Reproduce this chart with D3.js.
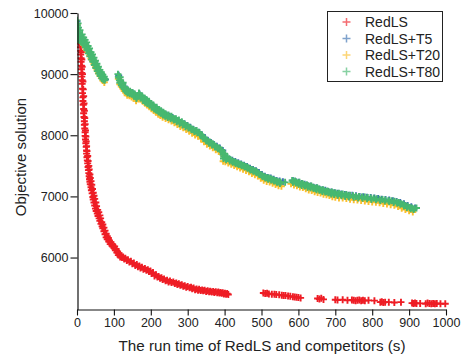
<!DOCTYPE html>
<html>
<head>
<meta charset="utf-8">
<script src="https://cdn.jsdelivr.net/npm/d3@7"></script>
<style>
  html, body { margin: 0; padding: 0; background: #fff; }
  svg { display: block; }
  text { font-family: Arial, "Liberation Sans", sans-serif; }
</style>
</head>
<body>
<div id="chart"></div>
<script>
// ---------- data ----------
const seriesNames = ["RedLS", "RedLS+T5", "RedLS+T20", "RedLS+T80"];
const seriesColors = ["#ee1d25", "#3a70b0", "#fbbf2c", "#47b870"];

const xTicks = [0, 100, 200, 300, 400, 500, 600, 700, 800, 900, 1000];
const yTicks = [6000, 7000, 8000, 9000, 10000];

// RedLS: time (s), objective
const redT = [8,8,9,9,10,10,11,11,12,12,13,13,14,14,15,15,16,16,17,18,18,19,20,20,21,22,22,23,24,25,26,26,27,28,29,30,31,32,33,34,35,36,38,39,41,43,44,46,48,50,52,55,57,60,62,65,68,70,73,76,79,82,86,90,95,100,104,108,112,117,122,128,135,142,150,158,165,172,180,188,195,202,210,218,225,232,240,248,256,265,272,280,288,296,305,312,320,328,335,342,350,358,365,372,380,386,392,398,404,410,
  505,510,515,520,528,535,540,548,555,560,565,572,578,585,590,595,600,606,
  652,657,662,668,
  700,706,720,733,745,750,755,760,765,770,775,780,790,806,
  822,826,830,835,845,860,878,
  908,912,916,920,930,945,950,955,960,965,970,975,985,998];
const redV = [9620,9560,9500,9440,9380,9320,9260,9200,9140,9080,9020,8960,8900,8840,8760,8690,8620,8560,8500,8430,8360,8300,8230,8170,8110,8050,7990,7930,7870,7810,7750,7700,7640,7590,7540,7480,7430,7380,7330,7280,7240,7200,7150,7100,7050,6990,6950,6900,6850,6800,6760,6720,6680,6640,6600,6550,6510,6480,6430,6380,6330,6300,6260,6220,6190,6160,6120,6080,6040,6010,6000,5975,5950,5925,5900,5870,5850,5830,5810,5790,5770,5740,5700,5680,5660,5640,5620,5600,5590,5575,5560,5545,5530,5515,5505,5490,5475,5465,5460,5455,5445,5440,5435,5430,5425,5420,5415,5405,5400,5395,
  5420,5410,5415,5405,5400,5400,5395,5390,5385,5380,5380,5370,5365,5360,5355,5350,5345,5340,
  5330,5320,5335,5315,
  5310,5305,5310,5300,5305,5300,5295,5300,5305,5295,5300,5295,5300,5295,
  5270,5275,5265,5270,5270,5265,5270,
  5255,5250,5255,5250,5250,5245,5255,5250,5245,5250,5245,5250,5245,5245];
// more RedLS improvements in the dense part: [time, objective]
const redMore = [[10,9600],[11,9480],[12,9360],[13,9240],[14,9120],[15,9000],[16,8880],[17,8750],[18,8640],[19,8520],[20,8400],[21,8280],[22,8180],[23,8080],[24,7980],[25,7900],[26,7820],[27,7740],[29,7660],[30,7580],[32,7500],[33,7440],[35,7360],[36,7300],[38,7250],[40,7190],[42,7120],[44,7060],[46,7010],[48,6960],[51,6900],[53,6840],[56,6780],[59,6740],[62,6690],[64,6640],[67,6580],[70,6540],[73,6490],[76,6440],[79,6390],[82,6350],[85,6320],[88,6280],[92,6250],[97,6210],[102,6180],[106,6140],[110,6100],[114,6070],[119,6030],[125,6010],[131,5990],[138,5965],[146,5940],[154,5910],[162,5885],[169,5860],[176,5840],[184,5820],[192,5800],[199,5780],[206,5755],[214,5720],[221,5690],[229,5670],[236,5650],[244,5630],[252,5615],[261,5600],[269,5585],[276,5570],[284,5555],[292,5540],[300,5525],[309,5515],[316,5500],[324,5485],[331,5480],[339,5470],[346,5465],[354,5455],[361,5450],[369,5445],[376,5440],[383,5435],[389,5430],[395,5425],[401,5415],[407,5410]];

// RedLS+T5
const t5T = [0,2,5,9,13,17,21,25,29,33,37,41,45,49,53,57,61,65,69,73,77,
  113,118,123,128,133,139,145,151,157,163,169,175,181,187,193,199,205,211,217,223,229,235,243,251,259,267,275,283,291,299,307,315,323,331,339,347,355,363,371,379,387,395,399,405,413,421,429,437,445,453,461,469,477,485,493,501,509,517,525,533,541,549,558,
  585,593,601,609,617,625,633,641,649,657,665,673,681,689,697,706,716,726,736,746,756,766,776,786,796,806,816,826,836,846,856,866,876,886,896,906,916];
const t5V = [9860,9760,9650,9600,9560,9540,9500,9450,9400,9360,9310,9270,9220,9170,9120,9070,9020,8990,8950,8930,8910,
  8980,8890,8850,8800,8750,8720,8700,8690,8660,8630,8680,8640,8600,8580,8550,8520,8490,8460,8430,8400,8380,8350,8330,8310,8290,8260,8240,8210,8190,8160,8130,8100,8080,8050,8000,7960,7910,7880,7850,7820,7790,7750,7660,7630,7610,7590,7570,7550,7530,7510,7490,7460,7440,7420,7390,7360,7330,7310,7300,7280,7260,7250,7240,
  7260,7240,7230,7210,7200,7180,7170,7150,7140,7120,7110,7100,7080,7070,7060,7050,7040,7030,7020,7020,7010,7000,6995,6985,6980,6975,6965,6955,6950,6940,6930,6915,6900,6880,6850,6830,6810];

// RedLS+T20
const t20T = [0,2,4,7,10,14,18,22,26,30,34,38,42,46,50,54,58,62,66,70,74,
  112,116,120,124,128,132,136,142,148,154,160,166,172,178,184,190,196,202,208,214,220,226,232,240,248,256,264,272,280,288,296,304,312,320,328,336,344,352,360,368,376,384,392,396,402,410,418,426,434,442,450,458,466,474,482,490,498,506,514,522,530,538,546,554,
  580,588,596,604,612,620,628,636,644,652,660,668,676,684,692,700,710,720,730,740,750,760,770,780,790,800,810,820,830,840,850,860,870,880,890,900,910];
const t20V = [9815,9675,9575,9595,9535,9515,9475,9445,9395,9355,9305,9255,9215,9165,9115,9075,9015,8975,8935,8895,8865,
  8925,8835,8795,8765,8725,8695,8655,8645,8625,8605,8565,8595,8595,8555,8525,8495,8465,8435,8405,8375,8345,8325,8295,8275,8255,8235,8205,8175,8145,8125,8095,8065,8035,8005,7985,7945,7895,7855,7825,7795,7765,7735,7695,7575,7565,7545,7525,7505,7485,7465,7445,7425,7405,7375,7355,7335,7295,7265,7245,7235,7215,7195,7175,7165,
  7205,7185,7175,7155,7145,7125,7105,7095,7075,7065,7055,7035,7025,7015,6995,6985,6975,6975,6965,6955,6945,6940,6935,6925,6915,6910,6905,6895,6885,6875,6865,6855,6835,6805,6785,6765,6745];

// RedLS+T80
const t80T = [0,1,1,2,2,3,4,5,6,8,10,12,14,16,18,20,22,24,26,28,30,32,34,36,38,40,42,44,46,48,50,52,54,56,58,60,62,64,66,68,70,72,74,76,
  111,113,115,117,119,121,123,125,127,129,131,133,135,138,141,144,147,150,153,156,159,162,165,168,171,174,177,180,183,186,189,192,195,198,201,204,207,210,213,216,219,222,225,228,231,234,237,240,244,248,252,256,260,264,268,272,276,280,284,288,292,296,300,304,308,312,316,320,324,328,332,336,340,344,348,352,356,360,364,368,372,376,380,384,388,392,395,396,398,400,402,405,408,412,416,420,424,428,432,436,440,444,448,452,456,460,464,468,472,476,480,484,488,492,496,500,504,508,512,516,520,524,528,532,536,540,544,548,552,564,
  583,587,591,595,599,603,607,611,615,619,623,627,631,635,639,643,647,651,655,659,663,667,671,675,679,683,687,691,695,700,705,710,715,720,725,730,735,740,748,756,764,772,780,788,796,804,812,820,828,836,844,852,860,866,872,878,884,890,896,902,908,914,920];
const t80V = [9880,9800,9720,9650,9590,9830,9760,9680,9610,9720,9640,9580,9650,9560,9600,9520,9560,9480,9520,9420,9460,9380,9420,9330,9360,9280,9320,9240,9270,9190,9220,9140,9170,9090,9120,9050,9070,9000,9030,8960,8990,8940,8960,8920,
  9000,8940,8900,8950,8870,8850,8820,8860,8790,8760,8780,8730,8710,8740,8700,8720,8690,8700,8660,8680,8640,8620,8650,8690,8660,8620,8640,8590,8610,8570,8580,8540,8555,8510,8520,8480,8495,8460,8440,8460,8410,8420,8390,8400,8360,8375,8340,8350,8320,8330,8300,8310,8280,8260,8270,8240,8250,8210,8220,8190,8180,8160,8150,8130,8120,8100,8090,8070,8080,8050,8040,8010,7980,7960,7940,7920,7900,7890,7870,7860,7840,7820,7800,7790,7770,7760,7720,7680,7650,7700,7640,7620,7640,7610,7600,7580,7570,7560,7550,7540,7530,7520,7510,7500,7490,7480,7470,7450,7440,7430,7420,7410,7400,7380,7360,7350,7330,7320,7310,7300,7300,7290,7280,7270,7260,7250,7240,7235,7230,7230,
  7260,7240,7250,7230,7220,7230,7200,7210,7190,7180,7190,7170,7160,7170,7150,7140,7130,7140,7120,7110,7100,7110,7090,7080,7090,7070,7060,7070,7050,7060,7040,7050,7030,7040,7020,7030,7010,7020,7010,7000,7000,6990,6990,6980,6975,6970,6960,6955,6950,6940,6935,6930,6920,6910,6900,6880,6870,6850,6840,6820,6810,6800,6810];
// more RedLS+T80 improvements: [time, objective]
const t80More = [[3,9560],[7,9560],[11,9530],[15,9510],[19,9480],[23,9440],[27,9390],[31,9340],[35,9290],[39,9240],[43,9200],[47,9150],[51,9100],[55,9050],[59,9010],[63,8970],[67,8930],[71,8910],[75,8900],
  [112,8960],[116,8860],[120,8820],[124,8790],[128,8760],[132,8720],[137,8690],[143,8680],[149,8670],[155,8640],[161,8600],[167,8640],[173,8610],[179,8570],[185,8540],[191,8520],[197,8490],[203,8460],[209,8430],[215,8410],[221,8380],[227,8360],[233,8330],[239,8310],[246,8290],[254,8270],[262,8250],[270,8220],[278,8190],[286,8170],[294,8140],[302,8120],[310,8090],[318,8060],[326,8040],[334,8010],[342,7950],[350,7910],[358,7870],[366,7840],[374,7810],[382,7780],[390,7740],[397,7620],[404,7600],[414,7580],[422,7560],[430,7540],[438,7520],[446,7500],[454,7480],[462,7460],[470,7430],[478,7410],[486,7390],[494,7360],[502,7330],[510,7300],[518,7280],[526,7270],[534,7250],[542,7230],[550,7210],
  [585,7230],[593,7220],[601,7200],[609,7180],[617,7170],[625,7150],[633,7140],[641,7130],[649,7110],[657,7100],[665,7080],[673,7070],[681,7060],[689,7040],[697,7030],[707,7020],[717,7010],[727,7000],[737,6990],[750,6985],[762,6975],[774,6970],[786,6960],[798,6950],[810,6945],[822,6935],[834,6925],[846,6915],[858,6900],[868,6890],[876,6870],[886,6845],[894,6820],[904,6800],[912,6785]];

const zip = (ts, vs) => ts.map((t, k) => [t, vs[k]]);
const seriesPoints = [
  zip(redT, redV).concat(redMore),
  zip(t5T, t5V),
  zip(t20T, t20V),
  zip(t80T, t80V).concat(t80More)
];

// ---------- drawing ----------
const W = 461, H = 358;
const svg = d3.select("#chart").append("svg").attr("width", W).attr("height", H);

const x = d3.scaleLinear().domain([0, 1000]).range([77, 446]);
const y = d3.scaleLinear().domain([5150, 10000]).range([309.5, 13]);

svg.append("defs").append("clipPath").attr("id", "plotclip")
  .append("rect").attr("x", 77).attr("y", 0).attr("width", 380).attr("height", 309.5);

const plus = "M-3.5,0H3.5M0,-3.5V3.5";

const plot = svg.append("g").attr("clip-path", "url(#plotclip)");
seriesNames.forEach((name, i) => {
  plot.append("g").selectAll("path").data(seriesPoints[i]).join("path")
    .attr("d", plus)
    .attr("transform", d => `translate(${x(d[0])},${y(d[1])})`)
    .attr("fill", "none")
    .attr("stroke", seriesColors[i])
    .attr("stroke-width", 1.9);
});

// axes: major + minor ticks
const fontTick = "12.5px";
const xAxisG = svg.append("g").attr("transform", "translate(0,309.5)");
xAxisG.call(d3.axisBottom(x).tickValues(d3.range(50, 1000, 100)).tickSize(3).tickSizeOuter(0).tickFormat(""));
xAxisG.call(d3.axisBottom(x).tickValues(xTicks).tickSize(6).tickSizeOuter(0).tickPadding(3).tickFormat(d3.format("d")));
xAxisG.selectAll("text").attr("font-size", fontTick).attr("fill", "#222").attr("font-family", "Arial, 'Liberation Sans', sans-serif");

const yAxisG = svg.append("g").attr("transform", "translate(77.5,0)");
yAxisG.call(d3.axisLeft(y).tickValues([5500, 6500, 7500, 8500, 9500]).tickSize(3).tickSizeOuter(0).tickFormat(""));
yAxisG.call(d3.axisLeft(y).tickValues(yTicks).tickSize(7).tickSizeOuter(0).tickPadding(2).tickFormat(d3.format("d")));
yAxisG.selectAll("text").attr("font-size", fontTick).attr("fill", "#222").attr("font-family", "Arial, 'Liberation Sans', sans-serif");
svg.selectAll(".domain").attr("stroke", "#111").attr("stroke-width", 1.2);
svg.selectAll(".tick line").attr("stroke", "#111").attr("stroke-width", 1.1);

// axis titles
svg.append("text").attr("x", 262).attr("y", 351).attr("text-anchor", "middle")
  .attr("font-size", "15.2px").attr("fill", "#222")
  .text("The run time of RedLS and competitors (s)");
svg.append("text").attr("transform", "translate(26,157) rotate(-90)").attr("text-anchor", "middle")
  .attr("font-size", "15px").attr("fill", "#222")
  .text("Objective solution");

// legend
const lg = svg.append("g");
lg.append("rect").attr("x", 327.5).attr("y", 11.5).attr("width", 115).attr("height", 70)
  .attr("fill", "#fff").attr("stroke", "#222").attr("stroke-width", 1);
seriesNames.forEach((name, i) => {
  const cy = 22 + i * 16.5;
  lg.append("path").attr("d", "M-4,0H4M0,-4V4")
    .attr("transform", `translate(346.5,${cy})`)
    .attr("stroke", seriesColors[i]).attr("stroke-width", 1.5).attr("opacity", 0.65).attr("fill", "none");
  lg.append("text").attr("x", 365).attr("y", cy + 5).attr("font-size", "14px").attr("fill", "#222").text(name);
});
</script>
</body>
</html>
